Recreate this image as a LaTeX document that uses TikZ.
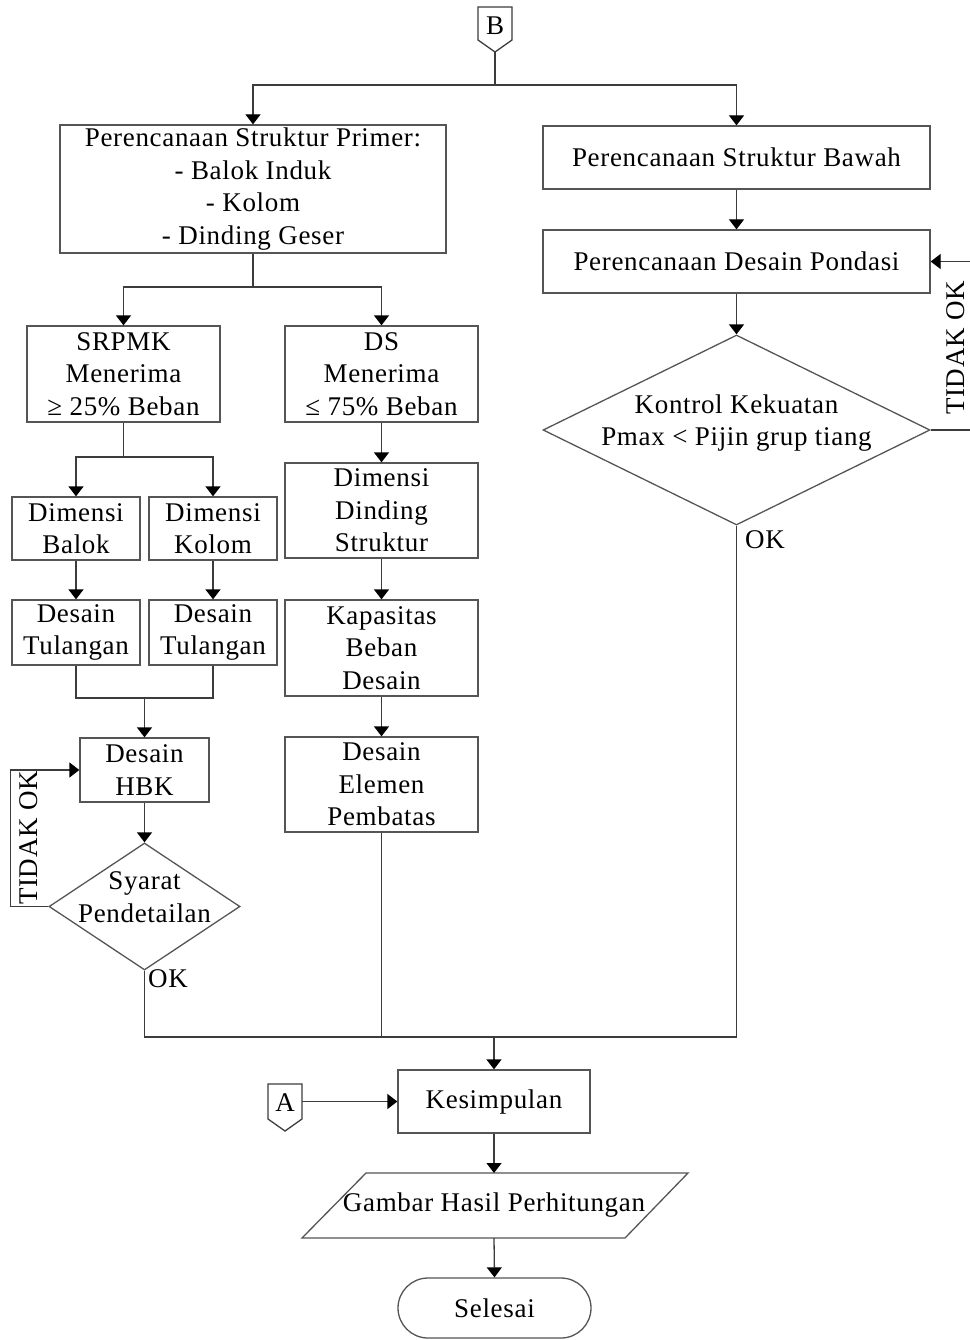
\documentclass[tikz,border=0pt]{standalone}
\usepackage{fontspec}
\setmainfont[LetterSpace=2.5]{Liberation Serif}
\usetikzlibrary{arrows.meta,shapes.geometric}
\definecolor{ln}{RGB}{85,85,85}
\definecolor{cn}{RGB}{60,60,60}
\begin{document}
\begin{tikzpicture}[x=1pt,y=-1pt,
  every node/.style={font=\fontsize{27}{32.5}\selectfont, align=center, inner sep=0pt, text=black},
  box/.style={draw=ln, line width=1.3pt, rectangle},
  dia/.style={draw=ln, line width=1.3pt, diamond, inner sep=0pt},
  con/.style={draw=cn, line width=1.3pt},
  arr/.style={con, -{Triangle[width=15pt,length=10pt,fill=black,color=black]}}
]
\useasboundingbox (0,0) rectangle (969,1340);

% off-page connector B
\draw[con] (478,7) -- (512,7) -- (512,40) -- (495,52) -- (478,40) -- cycle;
\node (B) at (495,26) {B};
\coordinate (Bb) at (495,52);
\coordinate (j1) at (495,85);

% top row
\node[box, minimum width=386pt, minimum height=128pt] (p1) at (253,189) {Perencanaan Struktur Primer:\\- Balok Induk\\- Kolom\\- Dinding Geser};
\node[box, minimum width=387pt, minimum height=63pt] (r1) at (736.5,157.5) {Perencanaan Struktur Bawah};
\node[box, minimum width=387pt, minimum height=63pt] (r2) at (736.5,261.5) {Perencanaan Desain Pondasi};
\node[dia, minimum width=387pt, minimum height=190pt] (kk) at (736.5,430) {};
\node (kkt) at (736.5,423) {Kontrol Kekuatan\\Pmax < Pijin grup tiang};

% left branches
\coordinate (j2) at (253,287);
\node[box, minimum width=193pt, minimum height=96pt] (srp) at (123.5,374) {SRPMK\\Menerima\\≥ 25\% Beban};
\node[box, minimum width=193pt, minimum height=96pt] (ds) at (381.5,374) {DS\\Menerima\\≤ 75\% Beban};
\coordinate (j3) at (123.5,457);
\node[box, minimum width=128pt, minimum height=63pt] (bal) at (76,528.5) {Dimensi\\Balok};
\node[box, minimum width=128pt, minimum height=63pt] (kol) at (213,528.5) {Dimensi\\Kolom};
\node[box, minimum width=128pt, minimum height=65pt] (t1) at (76,632.5) {Desain\\Tulangan};
\node[box, minimum width=128pt, minimum height=65pt] (t2) at (213,632.5) {Desain\\Tulangan};
\coordinate (j4) at (144.5,698);
\node[box, minimum width=129pt, minimum height=64pt] (hbk) at (144.5,770) {Desain\\HBK};
\node[dia, minimum width=191pt, minimum height=127pt] (sy) at (144.5,906.5) {};
\node (syt) at (144.5,897) {Syarat\\Pendetailan};

% DS column
\node[box, minimum width=193pt, minimum height=95pt] (dds) at (381.5,510.5) {Dimensi\\Dinding\\Struktur};
\node[box, minimum width=193pt, minimum height=96pt] (kap) at (381.5,648) {Kapasitas\\Beban\\Desain};
\node[box, minimum width=193pt, minimum height=95pt] (peb) at (381.5,784.5) {Desain\\Elemen\\Pembatas};

% bottom
\coordinate (jb) at (494,1037);
\node[box, minimum width=192pt, minimum height=63pt] (kes) at (494,1101.5) {Kesimpulan};
\draw[con] (268,1084) -- (302,1084) -- (302,1119) -- (285,1131) -- (268,1119) -- cycle;
\node (A) at (285,1103) {A};
\coordinate (Ar) at (302,1101.5);
\draw[box] (366,1173) -- (688,1173) -- (625,1238) -- (302,1238) -- cycle;
\node (gam) at (494,1205) {Gambar Hasil Perhitungan};
\coordinate (gamN) at (494,1173);
\coordinate (gamS) at (494,1238);
\node[box, rounded corners=30pt, minimum width=193pt, minimum height=60pt] (sel) at (494.5,1308) {Selesai};

% labels
\node[rotate=90] (tok1) at (29,838) {TIDAK OK};
\node[rotate=90] (tok2) at (956,348) {TIDAK OK};
\node (ok1) at (168,979) {OK};
\node (ok2) at (765,540) {OK};

% connectors
\draw[con] (Bb) -- (j1);
\draw[arr] (j1) -| (p1.north);
\draw[arr] (j1) -| (r1.north);
\draw[arr] (r1) -- (r2);
\draw[arr] (r2) -- (kk.north);
\draw[arr] (kk.east) -- ++(41,0) |- (r2.east);
\draw[con] (kk.south) |- (jb);

\draw[con] (p1.south) -- (j2);
\draw[arr] (j2) -| (srp.north);
\draw[arr] (j2) -| (ds.north);
\draw[con] (srp.south) -- (j3);
\draw[arr] (j3) -| (bal.north);
\draw[arr] (j3) -| (kol.north);
\draw[arr] (bal) -- (t1);
\draw[arr] (kol) -- (t2);
\draw[con] (t1.south) |- (j4) -| (t2.south);
\draw[arr] (j4) -- (hbk.north);
\draw[arr] (hbk) -- (sy.north);
\draw[arr] (sy.west) -- ++(-38,0) |- (hbk.west);
\draw[con] (sy.south) |- (jb);

\draw[arr] (ds) -- (dds);
\draw[arr] (dds) -- (kap);
\draw[arr] (kap) -- (peb);
\draw[con] (peb.south) -- (peb.south |- jb);

\draw[arr] (jb) -- (kes.north);
\draw[arr] (Ar) -- (kes.west);
\draw[arr] (kes.south) -- (gamN);
\draw[arr] (gamS) -- (sel.north);
\end{tikzpicture}
\end{document}
